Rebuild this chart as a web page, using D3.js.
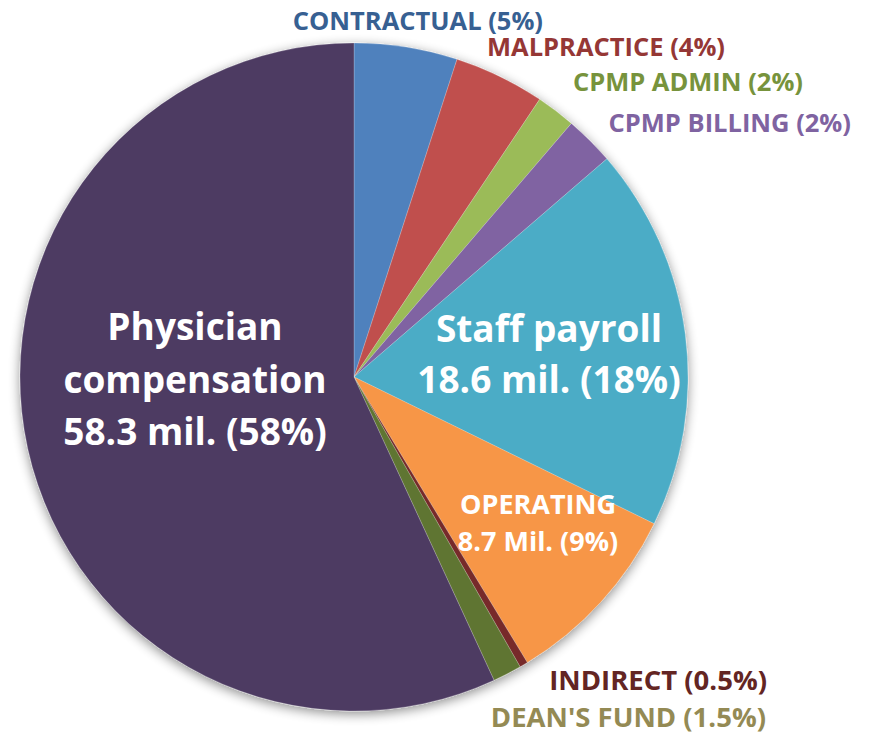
<!DOCTYPE html>
<html>
<head>
<meta charset="utf-8">
<script src="https://cdn.jsdelivr.net/npm/d3@7"></script>
<style>
body { margin: 0; background: #fff; }
text { font-family: "Open Sans", Lato, sans-serif; font-weight: bold; }
</style>
</head>
<body>
<div id="chart"></div>
<script>
// budget shares, clockwise from 12 o'clock
var categories = ["CONTRACTUAL", "MALPRACTICE", "CPMP ADMIN", "CPMP BILLING", "Staff payroll", "OPERATING", "INDIRECT", "DEAN'S FUND", "Physician compensation"]
var shares = [5.0, 4.4, 1.9, 2.4, 18.6, 9.1, 0.4, 1.4, 57.0]
var sliceColors = ["#4f81bd", "#c0504d", "#9bbb59", "#8064a2", "#4bacc6", "#f79646", "#772c2a", "#5f7530", "#4d3b62"]

// labels outside the pie
var outerLabels = ["CONTRACTUAL (5%)", "MALPRACTICE (4%)", "CPMP ADMIN (2%)", "CPMP BILLING (2%)", "INDIRECT (0.5%)", "DEAN'S FUND (1.5%)"]
var outerColors = ["#376092", "#953735", "#77933c", "#7f63a1", "#632523", "#948a54"]
// labels inside the pie
var physicianLines = ["Physician", "compensation", "58.3 mil. (58%)"]
var staffLines = ["Staff payroll", "18.6 mil. (18%)"]
var operatingLines = ["OPERATING", "8.7 Mil. (9%)"]

var width = 869
var height = 734
var cx = 354
var cy = 377
var radius = 334

var svg = d3.select("#chart")
    .append("svg")
    .attr("width", width)
    .attr("height", height)

// soft shadow round the pie
var defs = svg.append("defs")
var filter = defs.append("filter").attr("id", "shadow")
    .attr("x", "-10%").attr("y", "-10%").attr("width", "120%").attr("height", "120%")
filter.append("feGaussianBlur").attr("in", "SourceAlpha").attr("stdDeviation", 6)
filter.append("feOffset").attr("dx", 0).attr("dy", 3).attr("result", "blur")
filter.append("feComponentTransfer").append("feFuncA").attr("type", "linear").attr("slope", 0.45)
var merge = filter.append("feMerge")
merge.append("feMergeNode")
merge.append("feMergeNode").attr("in", "SourceGraphic")

var g = svg.append("g")
    .attr("transform", "translate(" + cx + "," + cy + ")")

var pie = d3.pie().sort(null).value(function(d) { return d })
var arcGen = d3.arc().innerRadius(0).outerRadius(radius)

g.append("g").attr("filter", "url(#shadow)")
    .selectAll("path")
    .data(pie(shares))
    .enter()
    .append("path")
    .attr("d", arcGen)
    .attr("fill", function(d, i) { return sliceColors[i] })
    .attr("stroke", "#ffffff")
    .attr("stroke-opacity", 0.35)
    .attr("stroke-width", 0.6)

// outside labels: [x of right edge, baseline, font size]
var outerPos = [[543, 30, 25.5], [725, 56, 25.5], [803, 91, 25.5], [851, 132, 25.5], [767, 690, 27.5], [766, 727, 27.5]]
svg.selectAll(".outer")
    .data(outerLabels)
    .enter()
    .append("text")
    .attr("class", "outer")
    .attr("x", function(d, i) { return outerPos[i][0] })
    .attr("y", function(d, i) { return outerPos[i][1] })
    .attr("text-anchor", "end")
    .attr("fill", function(d, i) { return outerColors[i] })
    .style("font-size", function(d, i) { return outerPos[i][2] + "px" })
    .text(function(d) { return d })

function block(lines, x, y0, step, size) {
    svg.append("g").selectAll("text")
        .data(lines)
        .enter()
        .append("text")
        .attr("x", x)
        .attr("y", function(d, i) { return y0 + i * step })
        .attr("text-anchor", "middle")
        .attr("fill", "#ffffff")
        .style("font-size", size + "px")
        .text(function(d) { return d })
}

block(physicianLines, 195, 340, 52.5, 37)
block(staffLines, 549, 342, 51, 37)
block(operatingLines, 538, 514, 37, 27)
</script>
</body>
</html>
